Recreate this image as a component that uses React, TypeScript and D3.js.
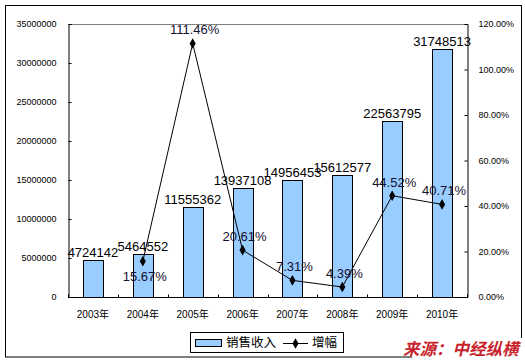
import React, { useRef, useEffect } from 'react';
import * as d3 from 'd3';

const categories = ['2003年', '2004年', '2005年', '2006年', '2007年', '2008年', '2009年', '2010年'];
const salesRevenue = [4724142, 5464552, 11555362, 13937108, 14956453, 15612577, 22563795, 31748513];
const growthRate: (number | null)[] = [null, 15.67, 111.46, 20.61, 7.31, 4.39, 44.52, 40.71];
const leftTickValues = [0, 5000000, 10000000, 15000000, 20000000, 25000000, 30000000, 35000000];
const rightTickValues = [0, 20, 40, 60, 80, 100, 120];
const labelsBelow = ['2004年'];

const W = 525;
const H = 362;
const latin = '"Liberation Sans", Arial, sans-serif';
const cjk = '"Liberation Sans", "Noto Sans CJK SC", sans-serif';

const App: React.FC = () => {
  const svgRef = useRef<SVGSVGElement>(null);

  useEffect(() => {
    if (!svgRef.current) return;
    const svg = d3.select(svgRef.current);
    svg.selectAll('*').remove();

    const plot = { left: 68, top: 24, right: 467, bottom: 297 };

    // outer frame
    svg.append('rect')
      .attr('x', 5.5).attr('y', 5.5)
      .attr('width', 516).attr('height', 351.5)
      .attr('fill', 'white').attr('stroke', 'black').attr('stroke-width', 1);

    const x = d3.scaleBand<string>()
      .domain(categories)
      .range([plot.left, plot.right])
      .paddingInner(0.6).paddingOuter(0.3);
    const band = d3.scaleBand<string>()
      .domain(categories)
      .range([plot.left, plot.right]);

    const yLeft = d3.scaleLinear().domain([0, 35000000]).range([plot.bottom, plot.top]);
    const yRight = d3.scaleLinear().domain([0, 120]).range([plot.bottom, plot.top]);

    // top gray line of plot area
    svg.append('line')
      .attr('x1', plot.left).attr('x2', plot.right)
      .attr('y1', plot.top + 0.5).attr('y2', plot.top + 0.5)
      .attr('stroke', '#808080');

    // Left axis
    const gl = svg.append('g').attr('transform', `translate(${plot.left + 0.5},0)`);
    gl.call(d3.axisLeft(yLeft).tickValues(leftTickValues).tickSize(-3).tickPadding(12).tickFormat(d3.format('d')));
    gl.select('.domain').attr('stroke', 'black');
    gl.selectAll('.tick line').attr('stroke', 'black');
    gl.selectAll('.tick text').attr('font-family', latin).attr('font-size', 9).attr('fill', '#000');

    // Right axis
    const gr = svg.append('g').attr('transform', `translate(${plot.right + 0.5},0)`);
    gr.call(d3.axisRight(yRight).tickValues(rightTickValues).tickSize(-3).tickPadding(11).tickFormat(d => `${(+d).toFixed(2)}%`));
    gr.select('.domain').attr('stroke', 'black');
    gr.selectAll('.tick line').attr('stroke', 'black');
    gr.selectAll('.tick text').attr('font-family', latin).attr('font-size', 9).attr('fill', '#000');

    // Bars
    svg.append('g').selectAll('rect')
      .data(categories)
      .join('rect')
      .attr('x', d => Math.round(x(d)!) + 0.5)
      .attr('y', (d, i) => Math.round(yLeft(salesRevenue[i])) + 0.5)
      .attr('width', Math.round(x.bandwidth()))
      .attr('height', (d, i) => Math.round(plot.bottom - yLeft(salesRevenue[i])))
      .attr('fill', '#99CCFF')
      .attr('stroke', 'black')
      .attr('stroke-width', 1);

    // Bottom axis
    const gb = svg.append('g').attr('transform', `translate(0,${plot.bottom + 0.5})`);
    gb.append('line').attr('x1', plot.left).attr('x2', plot.right + 1).attr('stroke', 'black');
    const boundaries = d3.range(categories.length + 1).map(i => plot.left + i * band.bandwidth());
    gb.selectAll('line.tick').data(boundaries).join('line')
      .attr('class', 'tick')
      .attr('x1', d => Math.round(d) + 0.5).attr('x2', d => Math.round(d) + 0.5)
      .attr('y1', 0).attr('y2', -3)
      .attr('stroke', 'black');
    gb.selectAll('text').data(categories).join('text')
      .attr('x', d => band(d)! + band.bandwidth() / 2)
      .attr('y', 20)
      .attr('text-anchor', 'middle')
      .attr('font-family', cjk)
      .attr('font-size', 10)
      .attr('fill', '#000')
      .text(d => d);

    // Bar value labels
    svg.append('g').selectAll('text')
      .data(categories)
      .join('text')
      .attr('x', d => band(d)! + band.bandwidth() / 2)
      .attr('y', (d, i) => yLeft(salesRevenue[i]) - 3)
      .attr('text-anchor', 'middle')
      .attr('font-family', latin)
      .attr('font-size', 13)
      .attr('fill', '#000')
      .text((d, i) => salesRevenue[i]);

    // Growth line
    const pts = categories
      .map((c, i) => ({ c, v: growthRate[i] }))
      .filter(p => p.v !== null) as { c: string; v: number }[];
    const cx = (c: string) => band(c)! + band.bandwidth() / 2;

    svg.append('path')
      .datum(pts)
      .attr('d', d3.line<{ c: string; v: number }>().x(p => cx(p.c)).y(p => yRight(p.v)))
      .attr('fill', 'none')
      .attr('stroke', 'black')
      .attr('stroke-width', 1);

    svg.append('g').selectAll('path')
      .data(pts)
      .join('path')
      .attr('transform', p => `translate(${cx(p.c)},${yRight(p.v)})`)
      .attr('d', d3.symbol(d3.symbolDiamond, 32)()!)
      .attr('fill', 'black');

    svg.append('g').selectAll('text')
      .data(pts)
      .join('text')
      .attr('x', p => cx(p.c) + 2)
      .attr('y', p => labelsBelow.includes(p.c) ? yRight(p.v) + 20 : yRight(p.v) - 9)
      .attr('text-anchor', 'middle')
      .attr('font-family', latin)
      .attr('font-size', 13)
      .attr('fill', '#14102e')
      .text(p => `${p.v.toFixed(2)}%`);

    // Legend
    const lg = svg.append('g');
    lg.append('rect')
      .attr('x', 190.5).attr('y', 332.5).attr('width', 153).attr('height', 20)
      .attr('fill', 'white').attr('stroke', 'black');
    lg.append('rect')
      .attr('x', 195.5).attr('y', 339.5).attr('width', 26).attr('height', 7)
      .attr('fill', '#99CCFF').attr('stroke', 'black');
    lg.append('text')
      .attr('x', 226).attr('y', 347)
      .attr('font-family', '"Noto Sans CJK SC", sans-serif')
      .attr('font-size', 12.5)
      .text('销售收入');
    lg.append('line')
      .attr('x1', 283).attr('x2', 308).attr('y1', 343.5).attr('y2', 343.5)
      .attr('stroke', 'black');
    lg.append('path')
      .attr('transform', 'translate(295.5,343.5)')
      .attr('d', d3.symbol(d3.symbolDiamond, 32)()!)
      .attr('fill', 'black');
    lg.append('text')
      .attr('x', 312).attr('y', 347)
      .attr('font-family', '"Noto Sans CJK SC", sans-serif')
      .attr('font-size', 12.5)
      .text('增幅');

    // Source
    svg.append('rect')
      .attr('x', 412).attr('y', 338).attr('width', 113).attr('height', 24)
      .attr('fill', 'white');
    svg.append('text')
      .attr('x', 403).attr('y', 355)
      .attr('font-family', '"Noto Sans CJK SC", sans-serif')
      .attr('font-size', 16.5)
      .attr('font-weight', 'bold')
      .attr('font-style', 'italic')
      .attr('fill', '#C8232C')
      .text('来源：中经纵横');
  }, []);

  return (
    <svg
      ref={svgRef}
      width={W}
      height={H}
      style={{ position: 'absolute', left: 0, top: 0, background: 'white' }}
    />
  );
};

export default App;
